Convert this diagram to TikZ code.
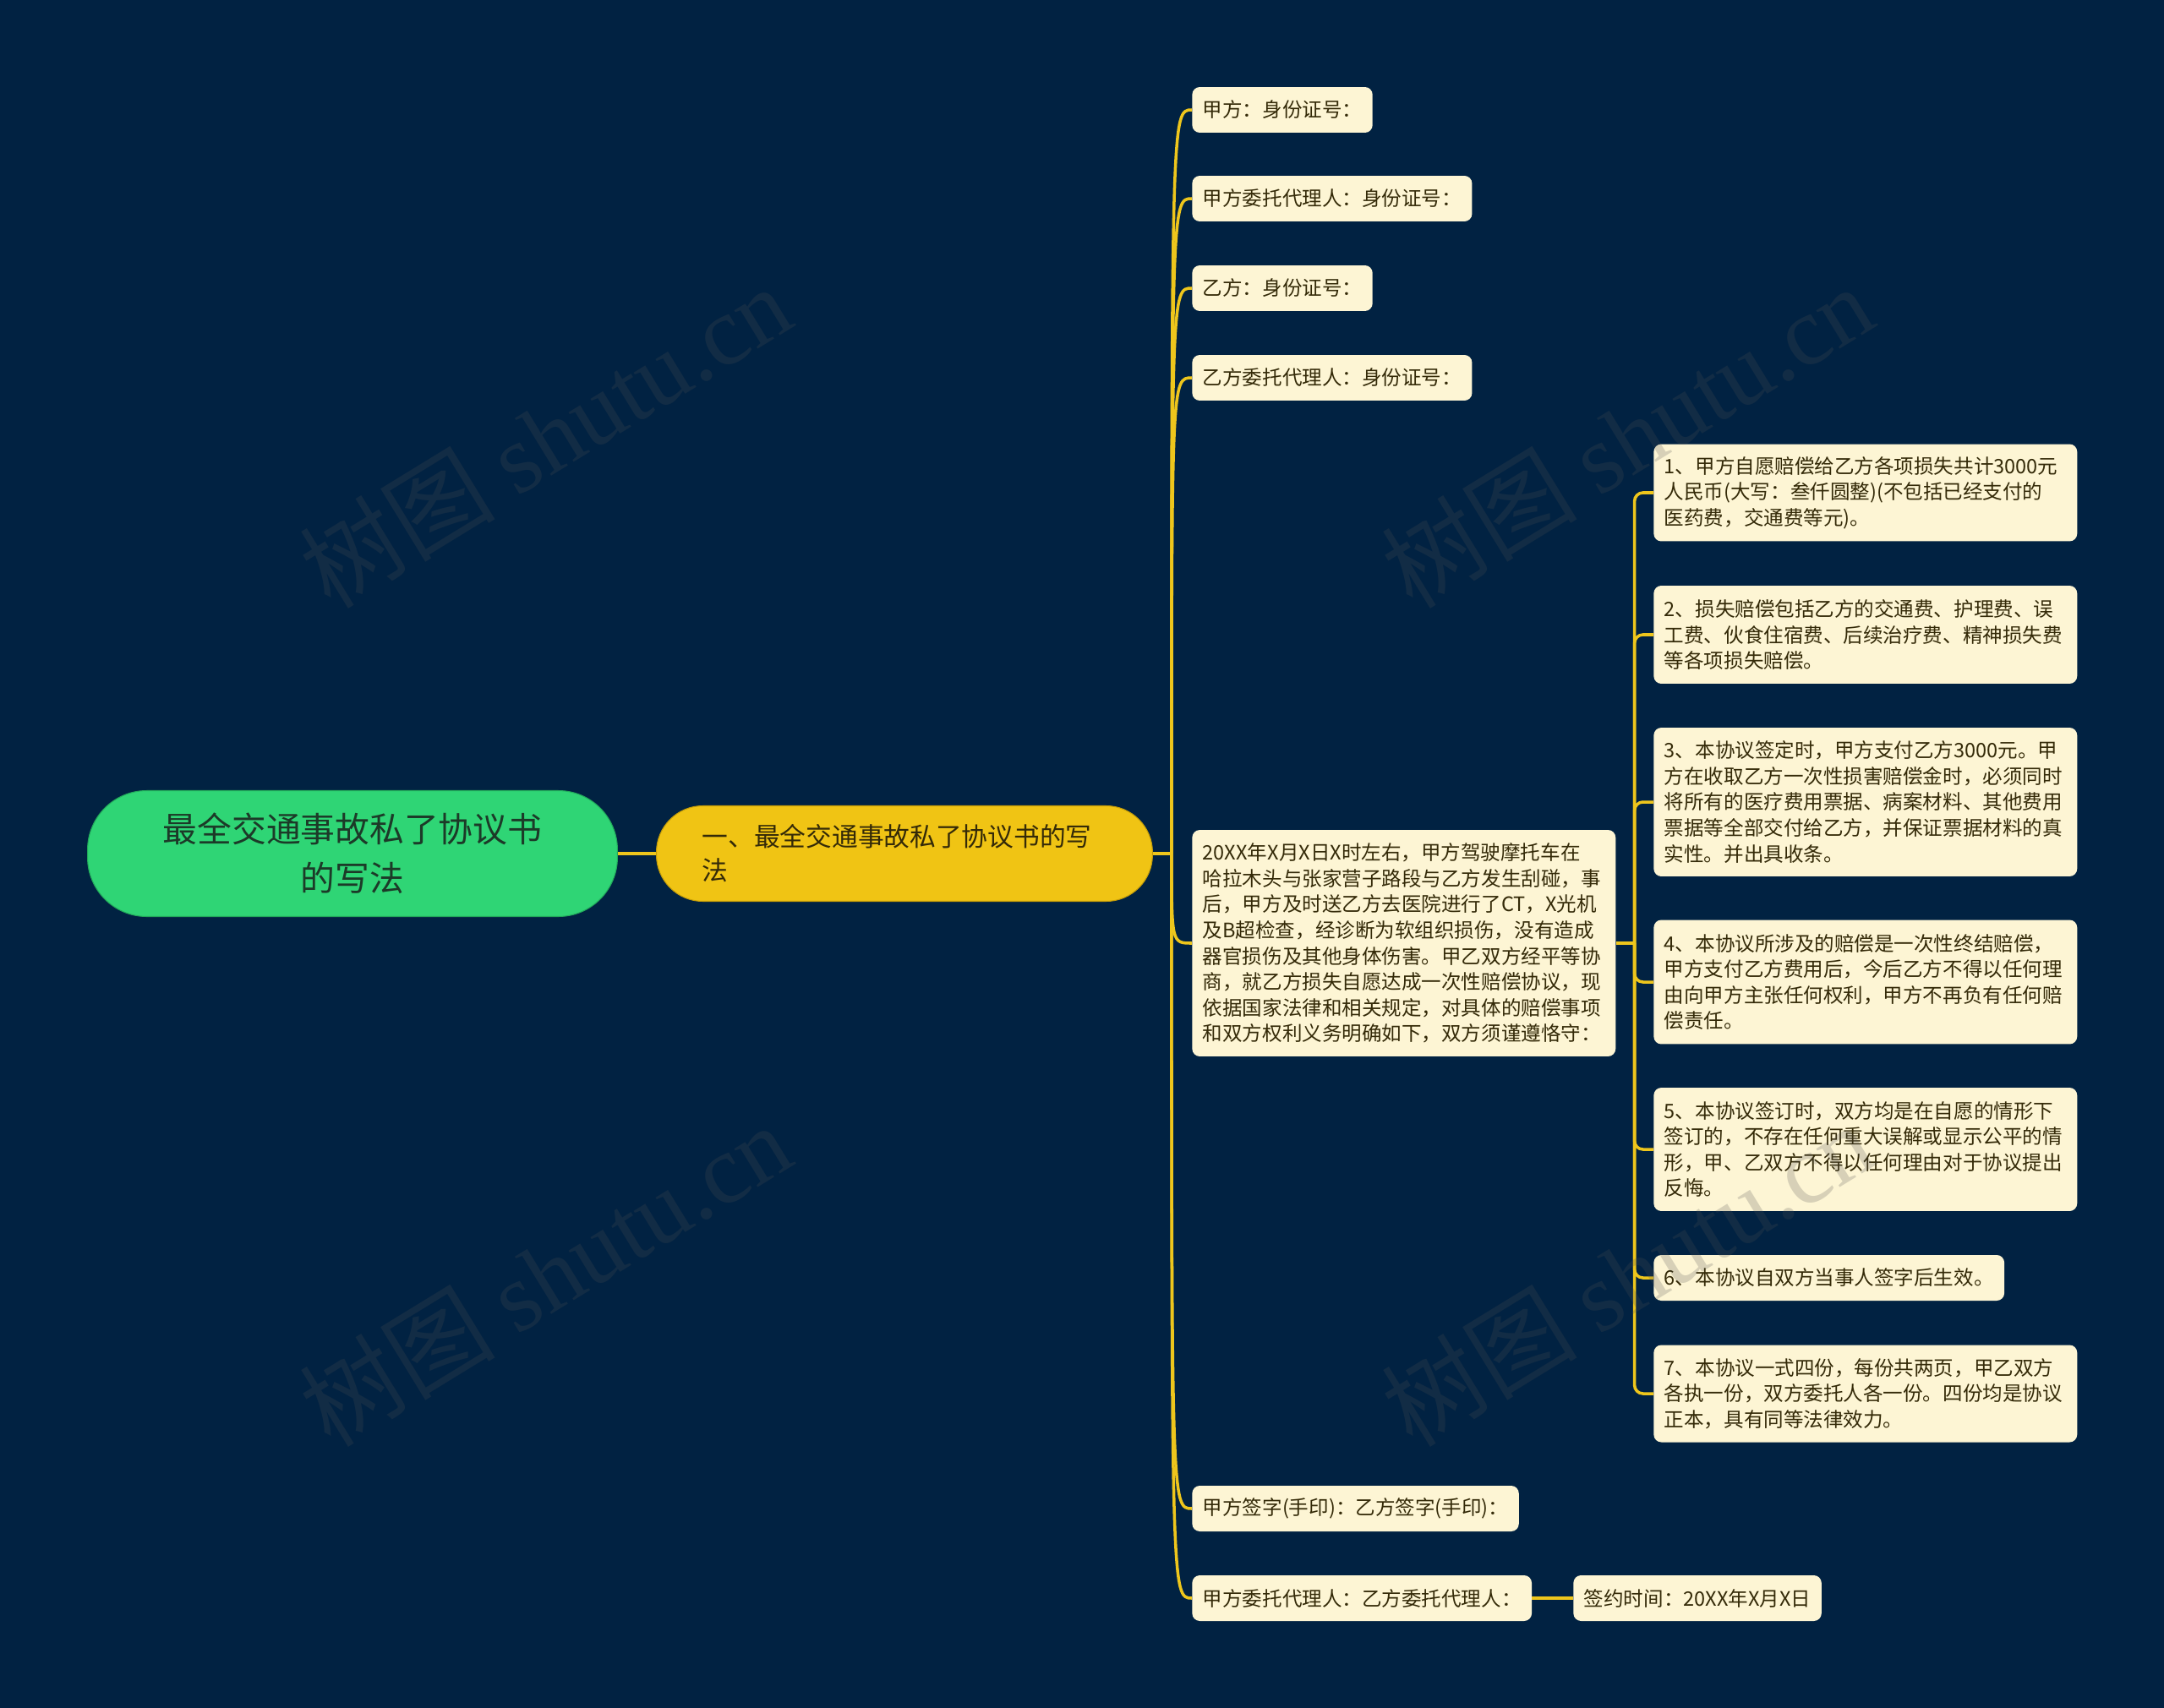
\documentclass[tikz,border=0pt]{standalone}
\usepackage{fontspec}
\setmainfont{Noto Sans CJK SC}
\newfontfamily\marcafont{Liberation Serif}
\usetikzlibrary{positioning,calc}
\definecolor{AcordoFundo}{RGB}{1,34,66}
\definecolor{AcordoVerde}{RGB}{47,213,117}
\definecolor{AcordoVerdeDark}{RGB}{34,168,90}
\definecolor{AcordoAmarelo}{RGB}{240,196,20}
\definecolor{AcordoAmareloDark}{RGB}{196,156,8}
\definecolor{AcordoCreme}{RGB}{253,245,212}
\definecolor{AcordoLinha}{RGB}{238,198,28}
\definecolor{AcordoTexto}{RGB}{52,42,8}
\definecolor{AcordoTextoRaiz}{RGB}{28,58,40}
\definecolor{AcordoMarca}{RGB}{80,80,80}
\tikzset{
  raiz/.style={fill=AcordoVerde, draw=AcordoVerdeDark, line width=0.6pt, rounded corners=1.4cm,
               align=center, text=AcordoTextoRaiz, font=\fontsize{23.2}{32.8}\selectfont,
               minimum width=12.54cm, minimum height=2.98cm, inner sep=2pt},
  ramo/.style={fill=AcordoAmarelo, draw=AcordoAmareloDark, line width=0.6pt, rounded corners=1.1cm,
               align=left, text=AcordoTexto, font=\fontsize{17.5}{22.8}\selectfont,
               text width=9.58cm, inner xsep=1.08cm, minimum height=2.26cm},
  folha/.style={fill=AcordoCreme, rounded corners=0.18cm, align=left, text=AcordoTexto,
               font=\fontsize{13.4}{17.4}\selectfont, inner xsep=0.25cm, inner ysep=3pt,
               minimum height=1.08cm, anchor=west},
  folhalonga/.style={folha, text width=9.52cm},
  ligacao/.style={draw=AcordoLinha, line width=2pt},
  marca/.style={text=AcordoMarca, text opacity=0.22, rotate=31.5, font=\fontsize{66}{66}\selectfont},
}

\begin{document}
\begin{tikzpicture}[x=0.02cm, y=-0.02cm]
  \def\W{2560} \def\H{2021}
  % Fundo
  \fill[AcordoFundo] (0,0) rectangle (\W,\H);

  % Raiz e ramo
  \node[raiz] (raiz) at (417,1010) {最全交通事故私了协议书\\的写法};
  \node[ramo, anchor=west] (ramo) at (776,1010) {一、最全交通事故私了协议书的写\\法};

  % Folhas do ramo
  \node[folha] (jia) at (1410,130) {甲方：身份证号：};
  \node[folha] (jiadl) at (1410,235) {甲方委托代理人：身份证号：};
  \node[folha] (yi) at (1410,341) {乙方：身份证号：};
  \node[folha] (yidl) at (1410,447) {乙方委托代理人：身份证号：};
  \node[folhalonga, minimum height=5.36cm] (fato) at (1410,1116)
    {20XX年X月X日X时左右，甲方驾驶摩托车在\\哈拉木头与张家营子路段与乙方发生刮碰，事\\后，甲方及时送乙方去医院进行了CT，X光机\\及B超检查，经诊断为软组织损伤，没有造成\\器官损伤及其他身体伤害。甲乙双方经平等协\\商，就乙方损失自愿达成一次性赔偿协议，现\\依据国家法律和相关规定，对具体的赔偿事项\\和双方权利义务明确如下，双方须谨遵恪守：};
  \node[folha] (ass1) at (1410,1785) {甲方签字(手印)：乙方签字(手印)：};
  \node[folha] (ass2) at (1410,1891) {甲方委托代理人：乙方委托代理人：};
  \node[folha] (data) at (1861,1891) {签约时间：20XX年X月X日};

  % Itens do acordo
  \node[folhalonga, minimum height=2.30cm] (item1) at (1956,583)
    {1、甲方自愿赔偿给乙方各项损失共计3000元\\人民币(大写：叁仟圆整)(不包括已经支付的\\医药费，交通费等元)。};
  \node[folhalonga, minimum height=2.32cm] (item2) at (1956,751)
    {2、损失赔偿包括乙方的交通费、护理费、误\\工费、伙食住宿费、后续治疗费、精神损失费\\等各项损失赔偿。};
  \node[folhalonga, minimum height=3.52cm] (item3) at (1956,949)
    {3、本协议签定时，甲方支付乙方3000元。甲\\方在收取乙方一次性损害赔偿金时，必须同时\\将所有的医疗费用票据、病案材料、其他费用\\票据等全部交付给乙方，并保证票据材料的真\\实性。并出具收条。};
  \node[folhalonga, minimum height=2.94cm] (item4) at (1956,1162)
    {4、本协议所涉及的赔偿是一次性终结赔偿，\\甲方支付乙方费用后，今后乙方不得以任何理\\由向甲方主张任何权利，甲方不再负有任何赔\\偿责任。};
  \node[folhalonga, minimum height=2.92cm] (item5) at (1956,1360)
    {5、本协议签订时，双方均是在自愿的情形下\\签订的，不存在任何重大误解或显示公平的情\\形，甲、乙双方不得以任何理由对于协议提出\\反悔。};
  \node[folha] (item6) at (1956,1512) {6、本协议自双方当事人签字后生效。};
  \node[folhalonga, minimum height=2.30cm] (item7) at (1956,1649)
    {7、本协议一式四份，每份共两页，甲乙双方\\各执一份，双方委托人各一份。四份均是协议\\正本，具有同等法律效力。};

  % Ligacoes
  \draw[ligacao] (raiz.east) -- (ramo.west);
  \coordinate (nramo) at ($(ramo.east)+(22,0)$);
  \draw[ligacao] (ramo.east) -- (nramo);
  \foreach \f in {jia,jiadl,yi,yidl,fato,ass1,ass2}
    \draw[ligacao] (nramo) .. controls (nramo |- \f.west) .. (\f.west);
  \coordinate (nfato) at ($(fato.east)+(22,0)$);
  \draw[ligacao] (fato.east) -- (nfato);
  \foreach \f in {item1,item2,item3,item4,item5,item6,item7}
    \draw[ligacao, rounded corners=0.2cm] (nfato) |- (\f.west);
  \draw[ligacao] (ass2.east) -- (data.west);

  % Marca d'agua
  \foreach \mx/\my [count=\k] in {645/516, 1925/516, 645/1508, 1925/1508}
    \node[marca] (marca\k) at (\mx,\my) {树图 {\marcafont shutu.cn}};
\end{tikzpicture}
\end{document}
